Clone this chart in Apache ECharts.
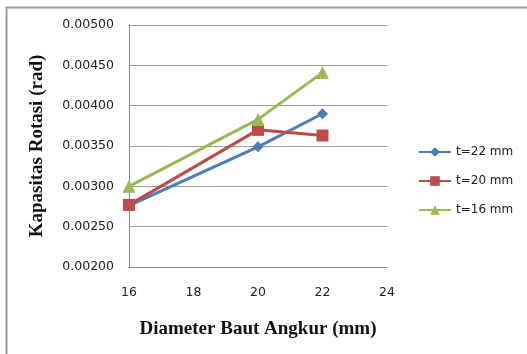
<!DOCTYPE html>
<html>
<head>
<meta charset="utf-8">
<script src="https://cdn.jsdelivr.net/npm/echarts@6/dist/echarts.min.js"></script>
<style>
html,body{margin:0;padding:0;background:#fff;}
#chart{width:527px;height:354px;}
</style>
</head>
<body>
<div id="chart"></div>
<script>
// Anchor bolt diameter (mm) on the x axis
const diameters = [16, 20, 22];
// Rotation capacity (rad) for each plate thickness
const t22 = [0.00276, 0.00349, 0.00390];
const t20 = [0.00277, 0.00370, 0.00363];
const t16 = [0.00300, 0.00383, 0.00441];
const seriesNames = ['t=22 mm', 't=20 mm', 't=16 mm'];

const pairs = vals => diameters.map((d, i) => [d, vals[i]]);

const chart = echarts.init(document.getElementById('chart'), null, {renderer: 'canvas'});
const labelFont = {fontFamily: 'DejaVu Sans', fontSize: 12.5, color: '#222'};
const titleFont = {fontFamily: 'Liberation Serif', fontWeight: 'bold', fontSize: 19, color: '#111'};

chart.setOption({
  animation: false,
  backgroundColor: '#fff',
  grid: {left: 129, right: 140, top: 25, bottom: 87},
  xAxis: {
    type: 'value', min: 16, max: 24, interval: 2,
    axisLine: {lineStyle: {color: '#888', width: 1}},
    axisTick: {show: false},
    splitLine: {show: false},
    axisLabel: Object.assign({margin: 19}, labelFont),
    name: 'Diameter Baut Angkur (mm)',
    nameLocation: 'middle', nameGap: 53,
    nameTextStyle: titleFont
  },
  yAxis: {
    type: 'value', min: 0.002, max: 0.005, interval: 0.0005,
    axisLine: {show: true, lineStyle: {color: '#888', width: 1}},
    axisTick: {show: false},
    splitLine: {lineStyle: {color: '#999', width: 1}},
    axisLabel: Object.assign({margin: 15, formatter: v => v.toFixed(5)}, labelFont),
    name: 'Kapasitas Rotasi (rad)',
    nameLocation: 'middle', nameGap: 82,
    nameTextStyle: titleFont
  },
  legend: {
    orient: 'vertical', left: 418, top: 146, itemGap: 17, padding: 0,
    itemWidth: 32, itemHeight: 12,
    textStyle: {fontFamily: 'DejaVu Sans', fontSize: 12, color: '#222'},
    data: seriesNames
  },
  series: [
    {name: seriesNames[0], type: 'line', data: pairs(t22), color: '#4a7ebb',
     symbol: 'diamond', symbolSize: 11, lineStyle: {width: 3}},
    {name: seriesNames[1], type: 'line', data: pairs(t20), color: '#be4b48',
     symbol: 'rect', symbolSize: 12, lineStyle: {width: 3}},
    {name: seriesNames[2], type: 'line', data: pairs(t16), color: '#98b954',
     symbol: 'triangle', symbolSize: 13, lineStyle: {width: 3}}
  ],
  graphic: [
    {type: 'line', shape: {x1: 6, y1: 7.5, x2: 527, y2: 7.5}, style: {stroke: '#999', lineWidth: 2}},
    {type: 'line', shape: {x1: 6.5, y1: 7, x2: 6.5, y2: 354}, style: {stroke: '#999', lineWidth: 2}}
  ]
});
</script>
</body>
</html>
